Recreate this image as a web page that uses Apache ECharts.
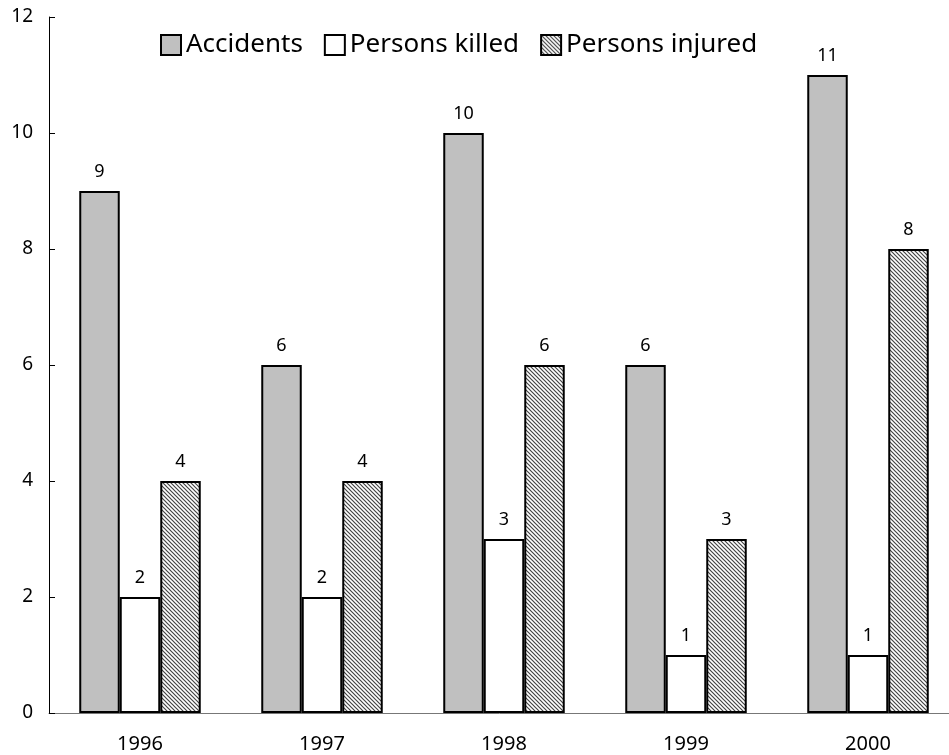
<!DOCTYPE html>
<html>
<head>
<meta charset="utf-8">
<script src="https://cdn.jsdelivr.net/npm/echarts@6/dist/echarts.min.js"></script>
<style>
    html, body { margin: 0; padding: 0; background: #fff; }
    #main { width: 949px; height: 755px; }
</style>
</head>
<body>
<div id="main"></div>
<script>
// data
var years = ['1996', '1997', '1998', '1999', '2000'];
var accidents = [9, 6, 10, 6, 11];
var killed = [2, 2, 3, 1, 1];
var injured = [4, 4, 6, 3, 8];
var seriesNames = ['Accidents', 'Persons killed', 'Persons injured'];

// hatch pattern for injured
function makeHatch(){
    var c = document.createElement('canvas');
    c.width = 4; c.height = 4;
    var ctx = c.getContext('2d');
    ctx.fillStyle = '#fff';
    ctx.fillRect(0, 0, 4, 4);
    ctx.strokeStyle = '#444';
    ctx.lineWidth = 1.2;
    ctx.beginPath();
    ctx.moveTo(-1, -1); ctx.lineTo(5, 5);
    ctx.moveTo(-1, 3); ctx.lineTo(1, 5);
    ctx.moveTo(3, -1); ctx.lineTo(5, 1);
    ctx.stroke();
    return c;
}

var font = '"Noto Sans", sans-serif';
var labelStyle = {
    show: true,
    position: 'top',
    distance: 10,
    color: '#000',
    fontSize: 18,
    fontFamily: font
};

function barSeries(name, data, fill){
    return {
        name: name,
        type: 'bar',
        data: data,
        barWidth: 40.5,
        barGap: '0%',
        itemStyle: { color: fill, borderColor: '#000', borderWidth: 2 },
        label: labelStyle
    };
}

var myChart = echarts.init(document.getElementById('main'));
var option = {
    animation: false,
    backgroundColor: '#fff',
    // 右侧超出画面，x轴延伸到边外
    grid: { left: 49, width: 910, top: 17, bottom: 42, outerBoundsMode: 'none' },
    legend: {
        left: 155,
        top: 27,
        icon: 'rect',
        itemWidth: 20,
        itemHeight: 20,
        itemGap: 21,
        textStyle: { fontSize: 26, color: '#000', fontFamily: font },
        data: seriesNames
    },
    xAxis: {
        type: 'category',
        data: years,
        axisLine: { lineStyle: { color: '#777', width: 1 } },
        axisTick: { show: false },
        axisLabel: { color: '#000', fontSize: 20, fontFamily: font, margin: 21 }
    },
    yAxis: {
        type: 'value',
        min: 0,
        max: 12,
        interval: 2,
        splitLine: { show: false },
        axisLine: { show: true, lineStyle: { color: '#000', width: 1 } },
        axisTick: { show: true, inside: true, length: 6, lineStyle: { color: '#000' } },
        axisLabel: { color: '#000', fontSize: 19, fontFamily: font, margin: 16 }
    },
    series: [
        barSeries(seriesNames[0], accidents, '#c0c0c0'),
        barSeries(seriesNames[1], killed, '#fff'),
        barSeries(seriesNames[2], injured, { image: makeHatch(), repeat: 'repeat' })
    ]
};
myChart.setOption(option);
</script>
</body>
</html>
